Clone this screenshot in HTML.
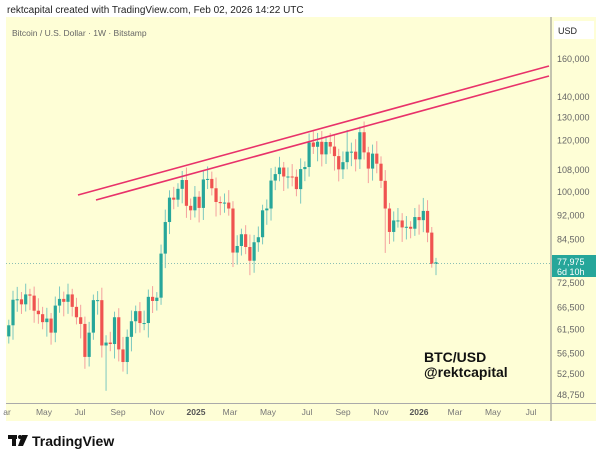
<!DOCTYPE html>
<html><head><meta charset="utf-8"><style>
body{margin:0;width:600px;height:461px;background:#fff;font-family:"Liberation Sans",sans-serif;overflow:hidden;position:relative}
.t{position:absolute;white-space:nowrap}
</style></head><body>
<div class="t" style="left:7px;top:5px;font-size:10px;color:#222">rektcapital created with TradingView.com, Feb 02, 2026 14:22 UTC</div>
<svg id="s" width="600" height="461" style="position:absolute;left:0;top:0">
<rect x="6" y="17" width="590" height="404" fill="#fefed6"/>
<line x1="551" y1="17" x2="551" y2="421" stroke="#888" stroke-width="1"/>
<line x1="6" y1="403.5" x2="596" y2="403.5" stroke="#aaa" stroke-width="1"/>
<rect x="554" y="21" width="40" height="18" fill="#fff"/>
<text x="558" y="34" font-size="9" fill="#222">USD</text>
<text x="12" y="36" font-size="8.5" fill="#666">Bitcoin / U.S. Dollar · 1W · Bitstamp</text>
<g id="c"></g>
<line x1="6" y1="263.5" x2="551" y2="263.5" stroke="#8bbfb4" stroke-width="1" stroke-dasharray="1,2"/>
<line x1="78" y1="195" x2="549" y2="66" stroke="#e8326a" stroke-width="1.6"/>
<line x1="96" y1="200" x2="549" y2="76" stroke="#e8326a" stroke-width="1.6"/>
<rect x="552" y="255" width="44" height="22" fill="#26a69a"/>
<text x="557" y="265" font-size="9" fill="#fff">77,975</text>
<text x="557" y="275" font-size="9" fill="#fff">6d 10h</text>
<g font-size="9" fill="#666" id="ya"></g>
<g font-size="8.5" fill="#777" text-anchor="middle">
<text x="7" y="415">ar</text><text x="44" y="415">May</text><text x="80" y="415">Jul</text><text x="118" y="415">Sep</text><text x="157" y="415">Nov</text><text x="196" y="415" font-weight="bold" fill="#555">2025</text><text x="230" y="415">Mar</text><text x="268" y="415">May</text><text x="307" y="415">Jul</text><text x="343" y="415">Sep</text><text x="381" y="415">Nov</text><text x="419" y="415" font-weight="bold" fill="#555">2026</text><text x="455" y="415">Mar</text><text x="493" y="415">May</text><text x="531" y="415">Jul</text>
</g>
<text x="424" y="362" font-size="14" font-weight="bold" fill="#111">BTC/USD</text>
<text x="424" y="377" font-size="14" font-weight="bold" fill="#111">@rektcapital</text>
<g fill="#111"><rect x="8" y="435" width="9" height="4"/><rect x="12" y="435" width="4" height="11"/><circle cx="20" cy="437" r="2"/><polygon points="22,435 28,435 23,446 18,446"/></g>
<text x="32" y="446" font-size="14" font-weight="bold" fill="#111">TradingView</text>
</svg>
<script>
var ns="http://www.w3.org/2000/svg";
function Y(p){return 59+(Math.log(160000)-Math.log(p))*282.8;}
var ya=document.getElementById("ya");
[160000,140000,130000,120000,108000,100000,92000,84500,72500,66500,61500,56500,52500,48750].forEach(function(v){
var t=document.createElementNS(ns,"text");t.setAttribute("x","557");t.setAttribute("y",Y(v)+3);t.textContent=v.toLocaleString("en-US");ya.appendChild(t);});
var cl=[62.4,68.3,68.4,67.2,69.6,69.3,65.7,64.9,63.1,63.9,60.8,66.9,68.5,67.8,69.6,66.6,64.2,62.7,55.8,60.8,68.2,68.2,58.1,58.7,58.4,64.2,57.3,54.8,59.9,63.3,65.6,62.9,62.9,69.0,68.0,68.8,80.4,89.9,98.0,97.3,101.1,104.3,95.2,93.7,98.3,94.5,104.5,104.7,101.3,96.5,96.1,96.3,94.3,80.7,82.6,86.1,82.3,78.4,83.7,85.2,93.7,94.3,104.1,106.5,109.0,105.6,105.6,105.5,101.0,108.4,109.2,119.1,117.3,119.4,114.2,119.3,117.4,113.5,108.3,111.1,115.3,115.3,112.2,123.5,115.0,108.6,114.5,110.5,104.0,94.3,86.8,90.4,90.4,88.2,88.4,87.8,91.5,90.5,93.5,86.6,77.5,77.975];
var lowO={23:49.5,57:74.5,89:80.6,101:74.5,100:76.5,28:52.5,18:53.5};var hiO={83:126,73:123.2,80:124.5,98:97.9,101:79.2};
var g=document.getElementById("c");var n=cl.length;
for(var i=0;i<n;i++){
var c=cl[i]*1000,o=(i?cl[i-1]:60)*1000;var x=436-(n-1-i)*4.23;
var hi=(hiO[i]||Math.max(o,c)/1000*(1.02+0.025*((i*7)%5)/4))*1000;
var lo=(lowO[i]||Math.min(o,c)/1000*(0.975-0.025*((i*3)%4)/3))*1000;
var col=c>=o?"#26a69a":"#ef5350";var wc=c>=o?"#7cc8bf":"#f4a09e";
var l=document.createElementNS(ns,"line");l.setAttribute("x1",x);l.setAttribute("x2",x);l.setAttribute("y1",Y(hi));l.setAttribute("y2",Y(lo));l.setAttribute("stroke",wc);l.setAttribute("stroke-width","1");g.appendChild(l);
var r=document.createElementNS(ns,"rect");var y1=Y(Math.max(o,c)),y2=Y(Math.min(o,c));
r.setAttribute("x",x-1.6);r.setAttribute("width","3.2");r.setAttribute("y",y1);r.setAttribute("height",Math.max(1,y2-y1));r.setAttribute("fill",col);g.appendChild(r);}
</script>
</body></html>
